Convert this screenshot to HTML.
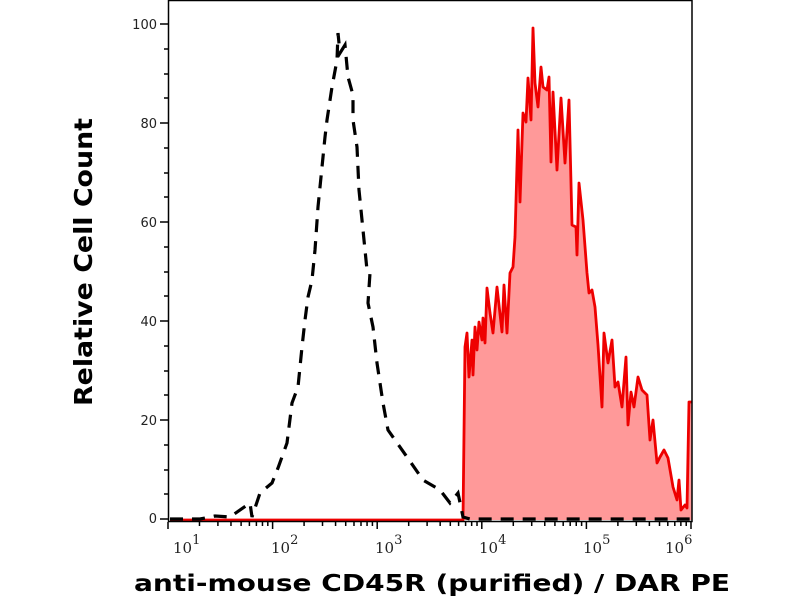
<!DOCTYPE html>
<html><head><meta charset="utf-8"><style>
html,body{margin:0;padding:0;background:#fff;width:800px;height:600px;overflow:hidden}
</style></head><body>
<svg width="800" height="600" viewBox="0 0 800 600" xmlns="http://www.w3.org/2000/svg">
<rect width="800" height="600" fill="#fff"/>
<polygon fill="#ff9999" stroke="none" points="463,520 465,347 467,333 469,377 472,340 473,375 475,327 477,350 479,322 482,340 483,318 485,343 487,288 490,313 493,333 497,287 502,332 504,285 507,333 510,273 513,267 515,237 518,130 520,202 523,113 526,122 528,78 531,120 533,28 535,83 538,107 541,67 543,87 547,90 549,77 551,162 553,92 557,170 561,98 565,163 569,100 572,225 576,227 577,255 579,183 583,220 587,273 589,293 592,290 595,307 598,345 602,407 604,333 608,363 612,340 615,387 618,382 622,407 626,357 628,425 631,392 634,407 638,377 642,390 647,395 650,440 653,420 657,463 660,457 664,450 668,458 673,487 677,500 679,480 681,510 685,505 687,508 689,402 692,402 692,520"/>
<polyline fill="none" stroke="#ee0000" stroke-width="2.8" stroke-linejoin="round" points="170,520 463,520 465,347 467,333 469,377 472,340 473,375 475,327 477,350 479,322 482,340 483,318 485,343 487,288 490,313 493,333 497,287 502,332 504,285 507,333 510,273 513,267 515,237 518,130 520,202 523,113 526,122 528,78 531,120 533,28 535,83 538,107 541,67 543,87 547,90 549,77 551,162 553,92 557,170 561,98 565,163 569,100 572,225 576,227 577,255 579,183 583,220 587,273 589,293 592,290 595,307 598,345 602,407 604,333 608,363 612,340 615,387 618,382 622,407 626,357 628,425 631,392 634,407 638,377 642,390 647,395 650,440 653,420 657,463 660,457 664,450 668,458 673,487 677,500 679,480 681,510 685,505 687,508 689,402 692,402"/>
<polyline fill="none" stroke="#000" stroke-width="3.2" stroke-dasharray="13,9" points="170,519 200,519 215,516 230,517 250,503 252,517 260,493 272,483 278,468 287,443 292,403 298,387 302,347 305,320 308,297 312,280 315,250 318,207 322,167 325,137 327,120 332,87 337,60 338,33 340,53 345,45 348,77 353,95 353,120 357,147 359,190 363,230 367,270 370,273 368,303 373,327 377,363 383,403 388,430 395,440 407,457 423,480 440,490 450,503 458,493 463,517 470,519 692,519"/>
<rect x="168.5" y="0.5" width="523.5" height="521" fill="none" stroke="#000" stroke-width="1.5"/>
<g stroke="#000" stroke-width="1.5">
<line x1="160" y1="24" x2="168" y2="24"/><line x1="160" y1="123" x2="168" y2="123"/><line x1="160" y1="222" x2="168" y2="222"/><line x1="160" y1="321" x2="168" y2="321"/><line x1="160" y1="420" x2="168" y2="420"/><line x1="160" y1="519" x2="168" y2="519"/>
<line x1="164" y1="49" x2="168" y2="49"/><line x1="164" y1="74" x2="168" y2="74"/><line x1="164" y1="98" x2="168" y2="98"/>
<line x1="164" y1="148" x2="168" y2="148"/><line x1="164" y1="173" x2="168" y2="173"/><line x1="164" y1="197" x2="168" y2="197"/>
<line x1="164" y1="247" x2="168" y2="247"/><line x1="164" y1="272" x2="168" y2="272"/><line x1="164" y1="296" x2="168" y2="296"/>
<line x1="164" y1="346" x2="168" y2="346"/><line x1="164" y1="371" x2="168" y2="371"/><line x1="164" y1="395" x2="168" y2="395"/>
<line x1="164" y1="445" x2="168" y2="445"/><line x1="164" y1="470" x2="168" y2="470"/><line x1="164" y1="494" x2="168" y2="494"/>
</g>
<g id="xt" stroke="#000" stroke-width="1.5"></g>
<g font-family="DejaVu Sans, sans-serif" font-size="13" fill="#222" text-anchor="end">
<text x="157" y="29">100</text><text x="157" y="128">80</text><text x="157" y="227">60</text><text x="157" y="326">40</text><text x="157" y="425">20</text><text x="157" y="523">0</text>
</g>
<g font-family="DejaVu Serif, serif" font-size="15" fill="#222">
<text x="173" y="553">10<tspan dy="-9" font-size="13">1</tspan></text>
<text x="271" y="553">10<tspan dy="-9" font-size="13">2</tspan></text>
<text x="375" y="553">10<tspan dy="-9" font-size="13">3</tspan></text>
<text x="479" y="553">10<tspan dy="-9" font-size="13">4</tspan></text>
<text x="583" y="553">10<tspan dy="-9" font-size="13">5</tspan></text>
<text x="665" y="553">10<tspan dy="-9" font-size="13">6</tspan></text>
</g>
<text x="432" y="591" text-anchor="middle" font-family="DejaVu Sans, sans-serif" font-weight="bold" font-size="23" textLength="596" lengthAdjust="spacingAndGlyphs" fill="#000">anti-mouse CD45R (purified) / DAR PE</text>
<text transform="translate(92,262) rotate(-90)" text-anchor="middle" font-family="DejaVu Sans, sans-serif" font-weight="bold" font-size="25" textLength="288" lengthAdjust="spacingAndGlyphs" fill="#000">Relative Cell Count</text>
</svg>
<script>
var g=document.getElementById('xt'),s='';
for(var d=0;d<6;d++){var x0=168+d*104.6;
 s+='<line x1="'+x0+'" y1="522" x2="'+x0+'" y2="529"/>';
 if(d<5)for(var m=2;m<10;m++){var x=x0+Math.log10(m)*104.6;s+='<line x1="'+x+'" y1="522" x2="'+x+'" y2="526"/>';}}
g.innerHTML=s;
</script>
</body></html>
